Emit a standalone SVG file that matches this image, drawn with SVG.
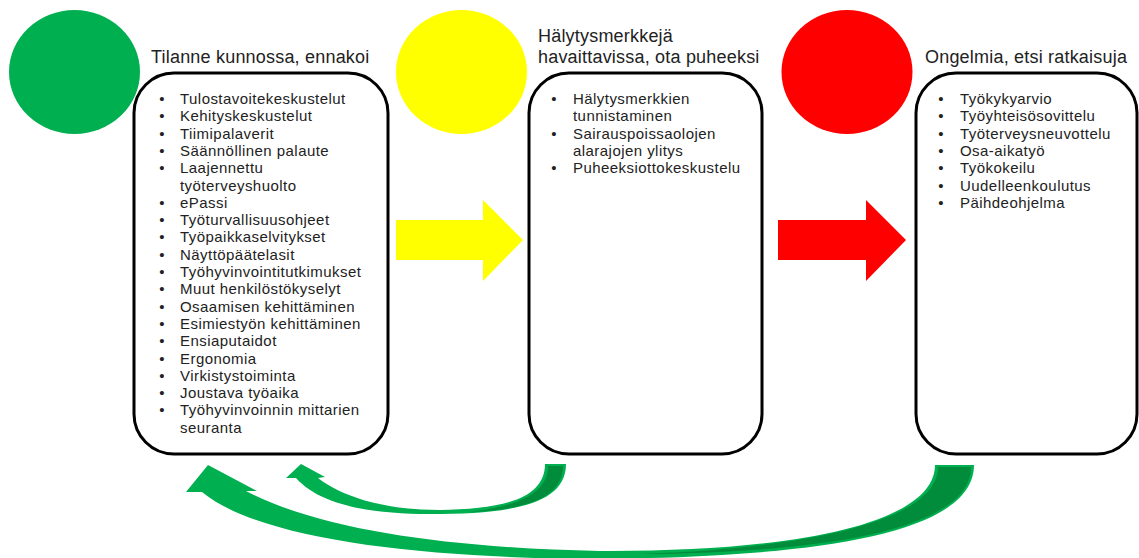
<svg xmlns="http://www.w3.org/2000/svg" width="1139" height="558" viewBox="0 0 1139 558">
<style>
.box{fill:#fff;stroke:#000;stroke-width:3}
.title{font-family:"Liberation Sans",Arial,sans-serif;font-size:18px;letter-spacing:0.2px;fill:#222}
.item{font-family:"Liberation Sans",Arial,sans-serif;font-size:15px;letter-spacing:0.45px;fill:#222}
.bul{font-family:"Liberation Sans",Arial,sans-serif;font-size:15px;fill:#222;text-anchor:middle}
.lg{fill:#00B050}
.dg{fill:#008C3A}
</style>
<rect width="1139" height="558" fill="#fff"/>

<g id="stage-green">
  <ellipse cx="74.5" cy="72" rx="65.5" ry="62" fill="#00B050"/>
  <text class="title" x="151" y="62.5">Tilanne kunnossa, ennakoi</text>
  <rect class="box" x="134" y="73" width="254" height="381" rx="40"/>
  <g>
    <text class="bul" x="162" y="104">•</text><text class="item" x="180" y="104">Tulostavoitekeskustelut</text>
    <text class="bul" x="162" y="121.3">•</text><text class="item" x="180" y="121.3">Kehityskeskustelut</text>
    <text class="bul" x="162" y="138.6">•</text><text class="item" x="180" y="138.6">Tiimipalaverit</text>
    <text class="bul" x="162" y="155.9">•</text><text class="item" x="180" y="155.9">Säännöllinen palaute</text>
    <text class="bul" x="162" y="173.2">•</text><text class="item" x="180" y="173.2">Laajennettu</text>
    <text class="item" x="180" y="190.5">työterveyshuolto</text>
    <text class="bul" x="162" y="207.8">•</text><text class="item" x="180" y="207.8">ePassi</text>
    <text class="bul" x="162" y="225.1">•</text><text class="item" x="180" y="225.1">Työturvallisuusohjeet</text>
    <text class="bul" x="162" y="242.4">•</text><text class="item" x="180" y="242.4">Työpaikkaselvitykset</text>
    <text class="bul" x="162" y="259.7">•</text><text class="item" x="180" y="259.7">Näyttöpäätelasit</text>
    <text class="bul" x="162" y="277">•</text><text class="item" x="180" y="277">Työhyvinvointitutkimukset</text>
    <text class="bul" x="162" y="294.3">•</text><text class="item" x="180" y="294.3">Muut henkilöstökyselyt</text>
    <text class="bul" x="162" y="311.6">•</text><text class="item" x="180" y="311.6">Osaamisen kehittäminen</text>
    <text class="bul" x="162" y="328.9">•</text><text class="item" x="180" y="328.9">Esimiestyön kehittäminen</text>
    <text class="bul" x="162" y="346.2">•</text><text class="item" x="180" y="346.2">Ensiaputaidot</text>
    <text class="bul" x="162" y="363.5">•</text><text class="item" x="180" y="363.5">Ergonomia</text>
    <text class="bul" x="162" y="380.8">•</text><text class="item" x="180" y="380.8">Virkistystoiminta</text>
    <text class="bul" x="162" y="398.1">•</text><text class="item" x="180" y="398.1">Joustava työaika</text>
    <text class="bul" x="162" y="415.4">•</text><text class="item" x="180" y="415.4">Työhyvinvoinnin mittarien</text>
    <text class="item" x="180" y="432.7">seuranta</text>
  </g>
</g>

<g id="stage-yellow">
  <ellipse cx="461.5" cy="72" rx="65.5" ry="62" fill="#FFFF00"/>
  <text class="title" x="538" y="41.5">Hälytysmerkkejä</text>
  <text class="title" x="538" y="63">havaittavissa, ota puheeksi</text>
  <rect class="box" x="529" y="73" width="233" height="381" rx="40"/>
  <g>
    <text class="bul" x="554" y="104">•</text><text class="item" x="573" y="104">Hälytysmerkkien</text>
    <text class="item" x="573" y="121.3">tunnistaminen</text>
    <text class="bul" x="554" y="138.6">•</text><text class="item" x="573" y="138.6">Sairauspoissaolojen</text>
    <text class="item" x="573" y="155.9">alarajojen ylitys</text>
    <text class="bul" x="554" y="173.2">•</text><text class="item" x="573" y="173.2">Puheeksiottokeskustelu</text>
  </g>
</g>

<g id="stage-red">
  <ellipse cx="847" cy="72" rx="65.5" ry="62" fill="#FF0000"/>
  <text class="title" x="925" y="62.5">Ongelmia, etsi ratkaisuja</text>
  <rect class="box" x="916" y="73" width="221" height="381" rx="40"/>
  <g>
    <text class="bul" x="941" y="104">•</text><text class="item" x="960" y="104">Työkykyarvio</text>
    <text class="bul" x="941" y="121.3">•</text><text class="item" x="960" y="121.3">Työyhteisösovittelu</text>
    <text class="bul" x="941" y="138.6">•</text><text class="item" x="960" y="138.6">Työterveysneuvottelu</text>
    <text class="bul" x="941" y="155.9">•</text><text class="item" x="960" y="155.9">Osa-aikatyö</text>
    <text class="bul" x="941" y="173.2">•</text><text class="item" x="960" y="173.2">Työkokeilu</text>
    <text class="bul" x="941" y="190.5">•</text><text class="item" x="960" y="190.5">Uudelleenkoulutus</text>
    <text class="bul" x="941" y="207.8">•</text><text class="item" x="960" y="207.8">Päihdeohjelma</text>
  </g>
</g>

<g id="connectors">
  <polygon id="arrow-yellow" fill="#FFFF00" points="396,220 483,220 483,200 523,240 483,281 483,260 396,260"/>
  <polygon id="arrow-red" fill="#FF0000" points="778,220 866,220 866,200 906,240 866,281 866,260 778,260"/>
  <g id="return-small">
    <path class="lg" d="M301,464 L325,477 L318,478 C340,495 380,510 440,510 C500,509 545,500 545,464 L566,464 C566,505 510,514 430,514 C370,514 320,505 296,478 L286,478 Z"/>
    <path class="dg" d="M548,466 L563,466 C563,500 520,510 470,512 C515,506 548,495 548,466 Z"/>
  </g>
  <g id="return-large">
    <path class="lg" d="M208,465 L257,491 L246,491 C320,530 450,548 600,551 C790,552 935,525 935,465 L974,465 C974,540 790,558 580,559 C420,557 260,540 202,492 L186,492 Z"/>
    <path class="dg" d="M938,467 L971,467 C971,535 800,553 640,554 C790,549 938,525 938,467 Z"/>
  </g>
</g>
</svg>
